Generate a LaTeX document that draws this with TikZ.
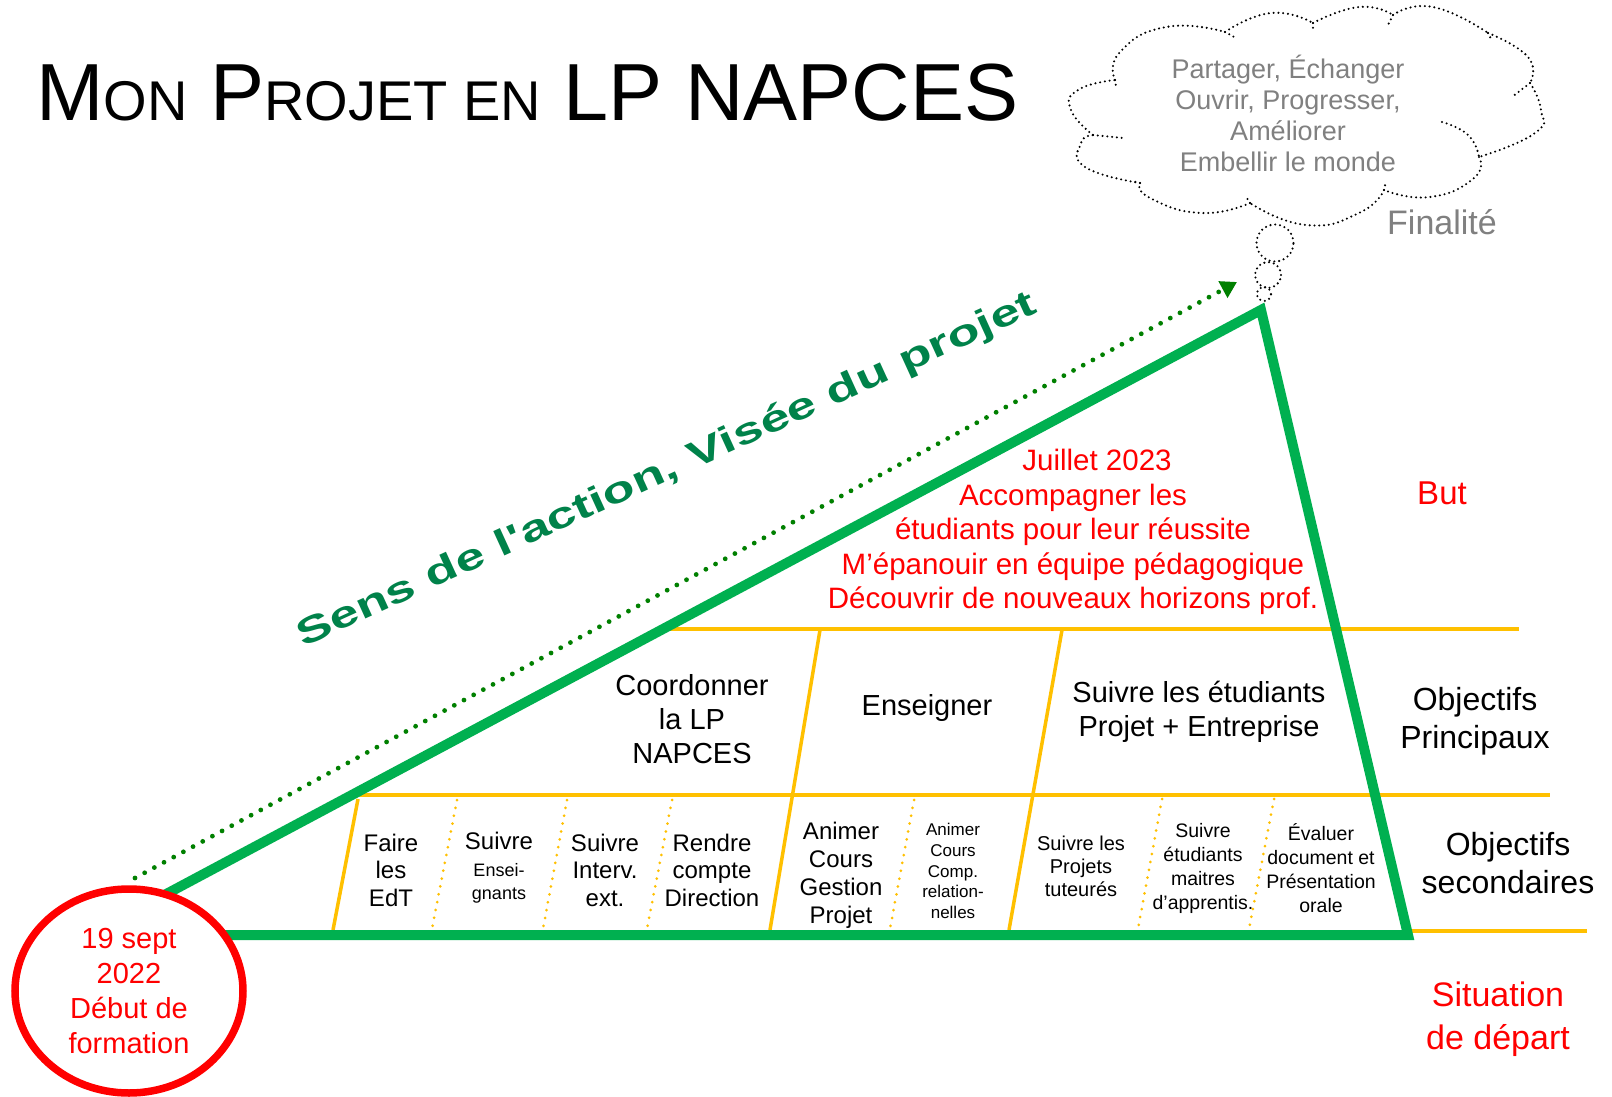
\documentclass[tikz,border=0pt]{standalone}
\usepackage{fontspec}
\setmainfont{Liberation Sans}
\usetikzlibrary{shapes.geometric,arrows.meta}
\definecolor{triGreen}{HTML}{00B050}
\definecolor{arrGreen}{HTML}{008000}
\definecolor{sensGreen}{HTML}{00824A}
\definecolor{gold}{HTML}{FFC000}
\definecolor{txtGray}{HTML}{808080}
\definecolor{txtRed}{HTML}{FF0000}
\newcommand\myfs[2]{\fontsize{#1}{#2}\selectfont}
\begin{document}
\begin{tikzpicture}[x=1pt,y=-1pt,
  triline/.style={draw=triGreen,line width=10pt,line join=miter},
  ysolid/.style={draw=gold,line width=3.5pt},
  ydot/.style={draw=gold,line width=3pt,line cap=round,dash pattern=on 0pt off 8pt},
  cdot/.style={draw=black,line width=2.3pt,line cap=round,dash pattern=on 0pt off 4.8pt},
  puff/.style={cdot,smooth,tension=0.9},
  txt/.style={align=center,inner sep=0pt,text=black},
  big/.style={txt,font=\myfs{29}{34}},
  cell/.style={txt,font=\myfs{24}{27.5}},
  lab/.style={txt,font=\myfs{32}{38}},
  redtxt/.style={align=center,inner sep=0pt,text=txtRed}
]
\useasboundingbox (0,0) rectangle (1612,1097);
\fill[white] (0,0) rectangle (1612,1097);

% ---------- coordinates ----------
\coordinate (tl) at (140,908);
\coordinate (apex) at (1261,310);
\coordinate (br) at (1408,935);
\coordinate (bl) at (190,935);
\coordinate (arrS) at (135,878);
\coordinate (arrE) at (1237,282);

% ---------- yellow grid ----------
\coordinate (a1) at (660,629);   \coordinate (a2) at (1519,629);
\coordinate (b1) at (350,795);   \coordinate (b2) at (1550,795);
\coordinate (c1) at (1410,931);  \coordinate (c2) at (1587,931);
\draw[ysolid] (a1) -- (a2);
\draw[ysolid] (b1) -- (b2);
\draw[ysolid] (c1) -- (c2);
\coordinate (s0t) at (358,799);  \coordinate (s0b) at (333,930);
\coordinate (s1t) at (820,630);  \coordinate (s1b) at (770,930);
\coordinate (s2t) at (1062,630); \coordinate (s2b) at (1009,930);
\draw[ysolid] (s0t) -- (s0b);
\draw[ysolid] (s1t) -- (s1b);
\draw[ysolid] (s2t) -- (s2b);
\coordinate (d1t) at (457,800);  \coordinate (d1b) at (432,929);
\coordinate (d2t) at (567,800);  \coordinate (d2b) at (543,929);
\coordinate (d3t) at (672,800);  \coordinate (d3b) at (647,929);
\coordinate (d4t) at (914,800);  \coordinate (d4b) at (890,929);
\coordinate (d5t) at (1162,799); \coordinate (d5b) at (1138,929);
\coordinate (d6t) at (1274,799); \coordinate (d6b) at (1249,929);
\foreach \d in {1,...,6}{\draw[ydot] (d\d t) -- (d\d b);}

% ---------- green triangle ----------
\draw[triline] (tl) -- (apex) -- (br) -- (bl);

% ---------- dotted arrow ----------
\draw[draw=arrGreen,line width=4.8pt,line cap=round,dash pattern=on 0pt off 11pt,
  -{Triangle[length=16pt,width=18pt,fill=arrGreen]}] (arrS) -- (arrE);

% ---------- start ellipse ----------
\node[ellipse,draw=txtRed,line width=7.5pt,fill=white,minimum width=228pt,
  minimum height=204pt,inner sep=0pt,align=center,text=txtRed,
  font=\myfs{29}{35}] (start) at (129,991)
  {19 sept\\2022\\Début de\\formation};

% ---------- cloud ----------
\draw[puff] plot coordinates {(1115,80) (1120,52) (1166,27) (1225,32)};
\draw[puff] plot coordinates {(1225,32) (1271,13) (1313,23)};
\draw[puff] plot coordinates {(1313,23) (1359,7) (1393,15)};
\draw[puff] plot coordinates {(1393,15) (1433,7) (1488,33)};
\draw[puff] plot coordinates {(1488,33) (1528,57) (1530,83)};
\draw[puff] plot coordinates {(1530,83) (1541,110) (1535,133) (1479,157)};
\draw[puff] plot coordinates {(1479,157) (1474,178) (1430,197) (1384,190)};
\draw[puff] plot coordinates {(1384,190) (1359,213) (1306,225) (1250,203)};
\draw[puff] plot coordinates {(1250,203) (1201,213) (1150,198) (1140,183)};
\draw[puff] plot coordinates {(1140,183) (1085,167) (1081,143) (1093,135)};
\draw[puff] plot coordinates {(1093,135) (1071,110) (1078,90) (1115,80)};
% inner tails
\draw[cdot] (1225,32) -- (1236,38);
\draw[cdot] (1313,23) -- (1313,30);
\draw[cdot] (1393,15) -- (1388,25);
\draw[cdot] (1488,33) -- (1491,39);
\draw[cdot] (1530,83) -- (1512,97);
\draw[puff] plot coordinates {(1442,122) (1468,135) (1479,157)};
\draw[cdot] (1384,190) -- (1386,181);
\draw[cdot] (1250,203) -- (1245,195);
\draw[cdot] (1140,183) -- (1132,181);
\draw[cdot] (1093,135) -- (1123,138);
\draw[cdot] (1115,80) -- (1116,86);
\node[circle,cdot,minimum size=37pt,inner sep=0pt] (bub1) at (1275,243) {};
\node[circle,cdot,minimum size=26pt,inner sep=0pt] (bub2) at (1268,275) {};
\node[circle,cdot,minimum size=14pt,inner sep=0pt] (bub3) at (1264,294) {};
\node[align=center,inner sep=0pt,text=txtGray,font=\myfs{27}{31}] (cloudtxt) at (1288,113)
  {Partager, Échanger\\Ouvrir, Progresser,\\Améliorer\\Embellir le monde};
\node[inner sep=0pt,text=txtGray,font=\myfs{34}{40}] (finalite) at (1442,222) {Finalité};

% ---------- title ----------
\node[anchor=base west,inner sep=0pt,font=\myfs{81}{81}] (title) at (36,121)
  {M{\myfs{56}{56}ON} P{\myfs{56}{56}ROJET EN} LP NAPCES};

% ---------- sens ----------
\node[rotate=24.5,inner sep=0pt,text=sensGreen,font=\bfseries\myfs{37}{37}] (sens) at (667,471)
  {\scalebox{1.43}[1]{Sens de l\textquotesingle action, Visée du projet}};

% ---------- goal ----------
\node[redtxt,font=\myfs{29.5}{34.5}] (goal) at (1073,532)
  {\hspace*{48pt}Juillet 2023\\Accompagner les\\étudiants pour leur réussite\\M’épanouir en équipe pédagogique\\Découvrir de nouveaux horizons prof.};

% ---------- main objectives ----------
\node[big] (coord) at (692,719) {Coordonner\\la LP\\NAPCES};
\node[big] (ens) at (927,708) {Enseigner};
\node[big] (suivet) at (1199,712) {Suivre les étudiants\\Projet + Entreprise};

% ---------- secondary objectives ----------
\node[cell] (edt) at (391,870) {Faire\\les\\EdT};
\node[txt,font=\myfs{18}{23}] (suiens) at (499,868) {{\myfs{24}{27}Suivre}\\[4pt]Ensei-\\gnants};
\node[cell] (interv) at (605,870) {Suivre\\Interv.\\ext.};
\node[cell] (rendre) at (712,870) {Rendre\\compte\\Direction};
\node[cell,font=\myfs{24}{28}] (animg) at (841,875) {Animer\\Cours\\Gestion\\Projet};
\node[txt,font=\myfs{17}{20.7}] (animc) at (953,871) {Animer\\Cours\\Comp.\\relation-\\nelles};
\node[txt,font=\myfs{20}{23}] (projtut) at (1081,866) {Suivre les\\Projets\\tuteurés};
\node[txt,font=\myfs{19.5}{24}] (maitres) at (1203,868) {Suivre\\étudiants\\maitres\\d’apprentis.};
\node[txt,font=\myfs{19.5}{24}] (evaluer) at (1321,868) {Évaluer\\document et\\Présentation\\orale};

% ---------- right labels ----------
\node[redtxt,font=\myfs{33}{38}] (but) at (1442,493) {But};
\node[lab] (objp) at (1475,721) {Objectifs\\Principaux};
\node[lab] (objs) at (1508,863) {Objectifs\\secondaires};
\node[redtxt,font=\myfs{34}{43.5}] (situ) at (1498,1019) {Situation\\de départ};
\end{tikzpicture}
\end{document}
